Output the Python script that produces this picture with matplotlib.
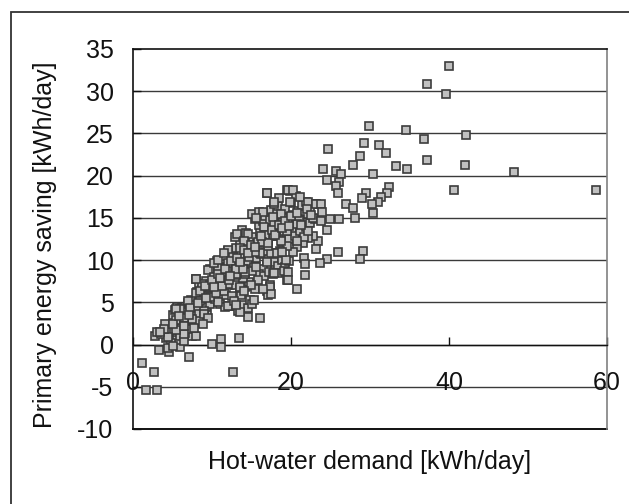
import matplotlib
matplotlib.use("Agg")
import matplotlib.pyplot as plt
from matplotlib.patches import Rectangle

plt.rcParams['font.family'] = ['Liberation Sans', 'DejaVu Sans']

# Hot-water demand [kWh/day]
demand = [
    40.0, 37.2, 39.6, 29.9, 34.5, 36.8, 42.2, 24.7, 29.3, 31.2, 28.7, 32.0, 27.8, 37.2, 42.0,
    33.3, 34.7, 24.0, 30.4, 48.2, 25.7, 26.3, 24.5, 26.1, 25.7, 32.4, 40.6, 58.6, 29.5, 25.9,
    32.2, 31.4, 29.0, 26.9, 31.0, 30.2, 27.9, 30.4, 28.1, 26.1, 24.9, 24.5, 23.4, 23.2, 29.1,
    25.9, 28.7, 24.5, 23.7, 21.6, 21.8, 21.8, 20.8, 13.4, 12.6, 11.2, 10.0, 11.2, 7.1, 1.1,
    2.6, 1.7, 3.0, 2.8, 3.3, 4.6, 6.0, 16.1, 14.6,
    4.2, 4.5, 4.1, 5.2, 5.6, 4.8, 5.9, 6.3, 6.7, 7.3, 7.5, 6.1, 5.5, 5.0, 5.3, 5.6, 6.2, 6.8,
    7.0, 7.6, 7.9, 7.4, 8.1, 8.6, 8.3, 7.9, 6.5, 4.4, 3.5, 3.0, 5.0, 7.6, 6.9, 8.0, 8.3, 8.7,
    8.1, 8.5, 9.0, 9.4, 9.2, 9.8, 10.1, 9.6, 9.3, 9.9, 10.2, 10.5, 9.8, 10.7, 10.6, 11.1, 11.4,
    10.9, 11.2, 11.8, 11.5, 10.4, 11.0, 11.7, 12.2, 12.8, 13.3, 14.1, 14.5, 14.8, 13.7, 12.5,
    12.1, 12.9, 13.5, 14.2, 15.0, 14.7, 13.9, 13.0, 12.4, 11.9, 12.3, 11.7, 12.0, 12.6, 13.1,
    13.6, 13.3, 12.9, 13.8, 14.3, 14.8, 15.2, 15.7, 15.0, 14.4, 13.7, 13.4, 14.0, 14.6, 15.3,
    15.6, 16.2, 16.8, 16.5, 17.1, 17.7, 17.2, 16.6, 16.1, 15.9, 16.4, 15.5, 15.1, 16.0, 16.7,
    17.3, 17.9, 17.5, 18.2, 18.8, 18.4, 17.9, 17.0, 18.5, 19.5, 19.9, 20.6, 20.0, 19.3, 19.0,
    19.6, 20.3, 20.9, 21.4, 21.9, 22.6, 23.0, 22.4, 21.7, 21.2, 20.7, 20.1, 19.4, 18.7, 18.1,
    18.9, 19.7, 20.5, 21.1, 21.9, 22.4, 23.1, 22.8, 22.1, 21.5, 20.8, 20.2, 19.5, 18.6, 18.0,
    17.5, 17.8, 18.3, 18.9, 19.3, 19.8, 17.0, 16.4, 15.9, 16.6, 17.2, 17.7, 18.4, 19.1, 19.5,
    17.3, 16.9, 17.1, 15.4, 15.8, 14.2, 15.1, 6.6,
    16.9, 17.9, 19.6, 20.2, 19.9, 21.2, 22.2, 23.2, 23.8, 22.0, 23.9, 22.8, 23.8, 21.0, 19.6,
    18.7, 17.7, 16.4, 15.6, 16.6, 18.1, 19.5, 20.7, 21.6, 22.2, 20.7, 18.7, 17.1, 16.1, 14.6,
    13.2, 14.1, 13.6, 12.0, 12.6, 14.6, 16.1, 18.2, 19.4, 18.9, 15.6, 16.9, 13.6, 12.0, 10.8,
    11.3, 13.1, 14.2, 17.9, 19.6, 19.6, 17.4, 17.5, 16.4, 14.9, 13.6, 12.0, 10.5, 9.5, 10.8,
    12.0, 13.6, 15.1, 15.3, 12.8, 14.1, 13.1, 9.0, 8.4, 9.0, 9.5, 7.5, 6.9, 8.0, 6.4, 5.4,
    4.4, 5.5, 6.3, 7.2, 8.0, 8.7, 8.0, 9.5, 10.3, 10.8, 11.5, 7.0, 6.0, 5.4, 5.0, 3.9, 3.4,
    6.4, 8.5, 9.8, 11.0, 10.3, 8.5,
    9.1, 10.0, 10.8, 11.6, 12.4, 13.2, 14.0, 14.9, 15.8, 16.7, 17.6, 18.5, 19.2, 20.0, 20.8,
    9.7, 10.5, 11.3, 12.2, 13.0, 13.9, 14.7, 15.5, 16.3, 17.1, 18.0, 18.8, 19.8, 21.3, 22.5,
    7.2, 8.2, 9.2, 10.2, 11.0, 12.3, 13.5, 14.5, 15.4, 16.2, 6.4, 7.1, 7.7, 8.9, 5.8,
]

# Primary energy saving [kWh/day]
saving = [
    33.0, 30.9, 29.7, 25.9, 25.4, 24.4, 24.8, 23.1, 23.9, 23.6, 22.3, 22.7, 21.3, 21.8, 21.3,
    21.2, 20.8, 20.8, 20.2, 20.4, 20.5, 20.2, 19.5, 19.2, 18.8, 18.7, 18.3, 18.3, 18.0, 17.9,
    17.9, 17.5, 17.4, 16.7, 16.9, 16.6, 16.2, 15.6, 15.0, 14.9, 14.9, 13.6, 12.3, 11.3, 11.1,
    11.0, 10.1, 10.1, 9.6, 10.2, 9.5, 8.2, 6.6, 0.8, -3.2, 0.7, 0.1, -0.3, -1.5, -2.2,
    -3.3, -5.4, -5.4, 1.0, -0.6, -0.9, -0.3, 3.1, 3.3,
    0.8, 1.5, 2.4, 1.7, 0.5, 0.2, 1.0, 1.8, 1.2, 1.6, 1.0, 2.6, 2.9, 3.5, 4.1, 4.5, 4.3, 3.4,
    4.9, 4.0, 5.1, 5.3, 4.4, 2.9, 3.6, 2.7, 0.4, -0.4, 1.3, 1.5, -0.2, 2.3, 2.9, 7.8, 7.2, 6.5,
    6.2, 5.6, 5.0, 3.7, 4.4, 4.8, 5.9, 6.3, 7.5, 7.2, 8.0, 8.6, 8.9, 9.4, 9.9, 9.8, 9.2,
    7.4, 6.5, 5.9, 6.3, 5.4, 4.8, 4.4, 4.6, 4.6, 4.0, 4.7, 4.3, 5.3, 5.9, 5.7,
    7.1, 7.0, 6.7, 6.8, 6.9, 7.4, 7.9, 8.2, 8.8, 9.1, 10.0, 10.5, 11.1, 10.8, 11.4,
    12.1, 13.0, 12.7, 13.6, 13.2, 12.6, 12.7, 12.0, 11.5, 11.0, 10.7, 9.4, 9.3, 9.9, 9.2,
    10.3, 10.7, 11.1, 11.9, 12.4, 12.9, 13.8, 13.1, 13.4, 14.1, 14.6, 14.9, 15.5, 15.7, 15.2,
    14.8, 14.4, 15.9, 15.8, 15.3, 16.4, 16.7, 17.9, 17.4, 18.3, 18.2, 17.6, 16.8, 16.1, 15.0,
    14.5, 15.4, 15.8, 16.5, 16.9, 16.7, 16.6, 15.8, 15.5, 14.9, 14.2, 13.7, 13.2, 13.5, 12.8,
    12.2, 12.5, 12.8, 13.5, 13.9, 14.4, 14.9, 12.9, 12.6, 12.0, 11.5, 11.0, 11.7, 11.1, 10.4,
    10.9, 9.8, 9.3, 10.0, 9.2, 9.9, 9.4, 9.0, 8.4, 8.1, 8.6, 8.4, 8.5, 8.7, 7.7,
    7.0, 6.4, 5.9, 6.6, 7.6, 8.3, 8.7, 1.4,
    17.9, 16.9, 18.3, 18.3, 16.9, 17.5, 16.9, 16.7, 16.6, 16.1, 15.7, 15.0, 14.6, 14.7, 14.4,
    15.5, 15.1, 15.7, 15.0, 13.9, 13.1, 13.5, 14.3, 12.7, 13.5, 12.3, 12.3, 11.7, 12.5, 13.1,
    13.1, 12.3, 11.4, 11.2, 10.4, 10.6, 10.8, 10.8, 10.0, 11.0, 9.2, 9.8, 9.6, 9.6, 9.2,
    8.0, 8.4, 8.6, 8.5, 8.6, 7.6, 6.8, 6.0, 6.6, 7.0, 6.8, 7.2, 6.4, 5.8, 5.0,
    4.6, 3.8, 4.8, 5.3, 5.2, 6.4, 4.7, 4.0, 2.8, 3.6, 3.2, 3.0, 1.8, 1.0, 1.3, 1.7,
    0.9, 2.9, 3.9, 4.7, 6.1, 7.2, 7.8, 8.8, 9.6, 10.0, 10.8, 5.2, 4.2, 4.2, 2.4, 1.9, 1.5,
    3.2, 5.2, 6.8, 7.6, 8.0, 6.4,
    6.9, 7.7, 8.3, 9.0, 9.9, 10.2, 11.2, 11.8, 12.2, 13.0, 13.6, 14.1, 14.6, 15.2, 15.6,
    5.6, 6.1, 6.9, 7.6, 8.9, 9.0, 10.4, 11.0, 12.1, 12.0, 13.0, 13.8, 14.0, 14.2, 15.3,
    4.3, 4.9, 5.5, 6.8, 7.9, 8.1, 9.8, 10.9, 11.6, 12.8, 2.2, 3.5, 2.0, 2.4, 3.4,
]

x_ticks = [0, 20, 40, 60]
y_ticks = [-10, -5, 0, 5, 10, 15, 20, 25, 30, 35]

fig = plt.figure(figsize=(6.29, 5.04), dpi=100)
ax = fig.add_axes([133/629, 1-429/504, (607-133)/629, (429-49)/504])

ax.set_xlim(0, 60)
ax.set_ylim(-10, 35)

for yv in y_ticks[1:-1]:
    ax.axhline(yv, color='#3a3a3a', lw=1.0, zorder=1)

ax.plot(demand, saving, linestyle='none', marker='s', markersize=5.6,
        markerfacecolor='#c0c0c0', markeredgecolor='#3c3c3c', markeredgewidth=1.2,
        zorder=3, clip_on=False)

# spines: box around plot area, x-axis crossing at y=0
ax.spines['bottom'].set_position(('data', 0))
ax.spines['bottom'].set_color('#111111')
ax.spines['bottom'].set_linewidth(1.0)
ax.spines['top'].set_color('#111111')
ax.spines['left'].set_color('#111111')
ax.spines['right'].set_color('#808080')
for s in ['top', 'left', 'right']:
    ax.spines[s].set_linewidth(1.2)
ax.plot([0, 1], [0, 0], transform=ax.transAxes, color='#111111', lw=1.4, clip_on=False)

ax.set_xticks(x_ticks)
ax.set_yticks(y_ticks)
ax.set_xticklabels([str(v) for v in x_ticks])
ax.set_yticklabels([str(v) for v in y_ticks])
ax.tick_params(axis='x', direction='in', length=6, width=1.0, pad=19, labelsize=18, colors='#111111')
ax.tick_params(axis='y', direction='in', length=6, width=1.0, pad=14, labelsize=18, colors='#111111')

fig.text(370/629, 1-462/504, 'Hot-water demand [kWh/day]', ha='center', va='center',
         fontsize=18, color='#111111')
fig.text(45/629, 1-245/504, 'Primary energy saving [kWh/day]', ha='center', va='center',
         rotation=90, fontsize=18, color='#111111')

# outer chart frame (extends past the right and bottom edges of the image)
fig.patches.append(Rectangle((11/629, -0.2), 1.2, 0.2 + (1 - 12/504),
                             transform=fig.transFigure, fill=False, ec='#333333', lw=1.3))

fig.savefig('out.png', dpi=100)
